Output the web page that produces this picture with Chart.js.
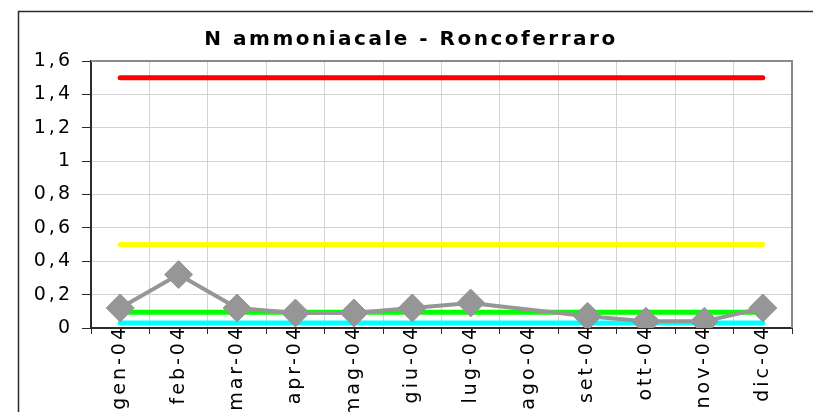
<!DOCTYPE html>
<html>
<head>
<meta charset="utf-8">
<script src="https://cdn.jsdelivr.net/npm/chart.js@4/dist/chart.umd.min.js"></script>
<style>
  body { margin: 0; background: #ffffff; }
  canvas { display: block; }
</style>
</head>
<body>
<canvas id="n-ammoniacale-chart" width="813" height="412"></canvas>
<script>
// data
let months = ["gen-04", "feb-04", "mar-04", "apr-04", "mag-04", "giu-04", "lug-04", "ago-04", "set-04", "ott-04", "nov-04", "dic-04"];
let nAmmoniacale = [0.12, 0.32, 0.12, 0.09, 0.09, 0.12, 0.15, null, 0.07, 0.04, 0.04, 0.12];
let limitRed = [1.5, 1.5, 1.5, 1.5, 1.5, 1.5, 1.5, 1.5, 1.5, 1.5, 1.5, 1.5];
let limitYellow = [0.5, 0.5, 0.5, 0.5, 0.5, 0.5, 0.5, 0.5, 0.5, 0.5, 0.5, 0.5];
let limitGreen = [0.095, 0.095, 0.095, 0.095, 0.095, 0.095, 0.095, 0.095, 0.095, 0.095, 0.095, 0.095];
let limitCyan = [0.03, 0.03, 0.03, 0.03, 0.03, 0.03, 0.03, 0.03, 0.03, 0.03, 0.03, 0.03];
let yTickLabels = ["0", "0,2", "0,4", "0,6", "0,8", "1", "1,2", "1,4", "1,6"];
let chartTitle = "N ammoniacale - Roncoferraro";

const fontFamily = "'DejaVu Sans', sans-serif";

// excel-like wide text for axes, title and frame drawn by hand
let excelLook = {
  id: "excelLook",
  beforeDraw(chart) {
    let ctx = chart.ctx;
    ctx.save();
    ctx.strokeStyle = "#2b2b2b";
    ctx.lineWidth = 1.5;
    ctx.beginPath();
    ctx.moveTo(18.5, 420);
    ctx.lineTo(18.5, 11.5);
    ctx.lineTo(820, 11.5);
    ctx.stroke();
    ctx.fillStyle = "#000000";
    ctx.font = "bold 20px " + fontFamily;
    ctx.letterSpacing = "2.5px";
    ctx.textAlign = "center";
    ctx.textBaseline = "alphabetic";
    ctx.fillText(chartTitle, 411, 45);
    ctx.restore();
    ctx.letterSpacing = "3px";
  },
  beforeDatasetsDraw(chart) {
    let ctx = chart.ctx;
    ctx.letterSpacing = "0px";
    let a = chart.chartArea;
    ctx.save();
    ctx.strokeStyle = "#8a8a8a";
    ctx.lineWidth = 2;
    ctx.beginPath();
    ctx.moveTo(a.left, a.top);
    ctx.lineTo(a.right, a.top);
    ctx.lineTo(a.right, a.bottom);
    ctx.stroke();
    ctx.restore();
  },
};

function flatLine(data, color) {
  return {
    data: data,
    borderColor: color,
    backgroundColor: color,
    borderWidth: 5,
    borderCapStyle: "round",
    pointRadius: 0,
    pointHoverRadius: 0,
  };
}

let nChart = new Chart("n-ammoniacale-chart", {
  type: "line",
  data: {
    labels: months,
    datasets: [
      {
        data: nAmmoniacale,
        borderColor: "#969696",
        backgroundColor: "#969696",
        borderWidth: 4,
        pointStyle: "rectRot",
        pointRadius: 14,
        pointBorderWidth: 1,
        spanGaps: true,
      },
      flatLine(limitRed, "#ff0000"),
      flatLine(limitYellow, "#ffff00"),
      flatLine(limitGreen, "#00ff00"),
      flatLine(limitCyan, "#00ffff"),
    ],
  },
  plugins: [excelLook],
  options: {
    responsive: false,
    animation: false,
    layout: {
      padding: { left: 0, right: 21, top: 61, bottom: 0 },
    },
    plugins: {
      legend: { display: false },
      title: { display: false },
      tooltip: { enabled: false },
    },
    scales: {
      x: {
        offset: true,
        afterFit: (scale) => {
          scale.height = 84;
        },
        grid: {
          offset: true,
          color: "#d2d2d2",
          tickColor: "#2b2b2b",
          tickLength: 6,
          lineWidth: 1,
        },
        border: { color: "#2b2b2b", width: 2 },
        ticks: {
          autoSkip: false,
          maxRotation: 90,
          minRotation: 90,
          padding: -9,
          color: "#000000",
          font: { family: fontFamily, size: 19 },
        },
      },
      y: {
        min: 0,
        max: 1.6,
        afterFit: (scale) => {
          scale.width = 91;
        },
        grid: {
          color: "#d2d2d2",
          tickColor: "#2b2b2b",
          tickLength: 9,
          lineWidth: 1,
        },
        border: { color: "#2b2b2b", width: 2 },
        ticks: {
          stepSize: 0.2,
          padding: 9,
          color: "#000000",
          font: { family: fontFamily, size: 19 },
          callback: function (value, index) {
            return yTickLabels[index];
          },
        },
      },
    },
  },
});
</script>
</body>
</html>
